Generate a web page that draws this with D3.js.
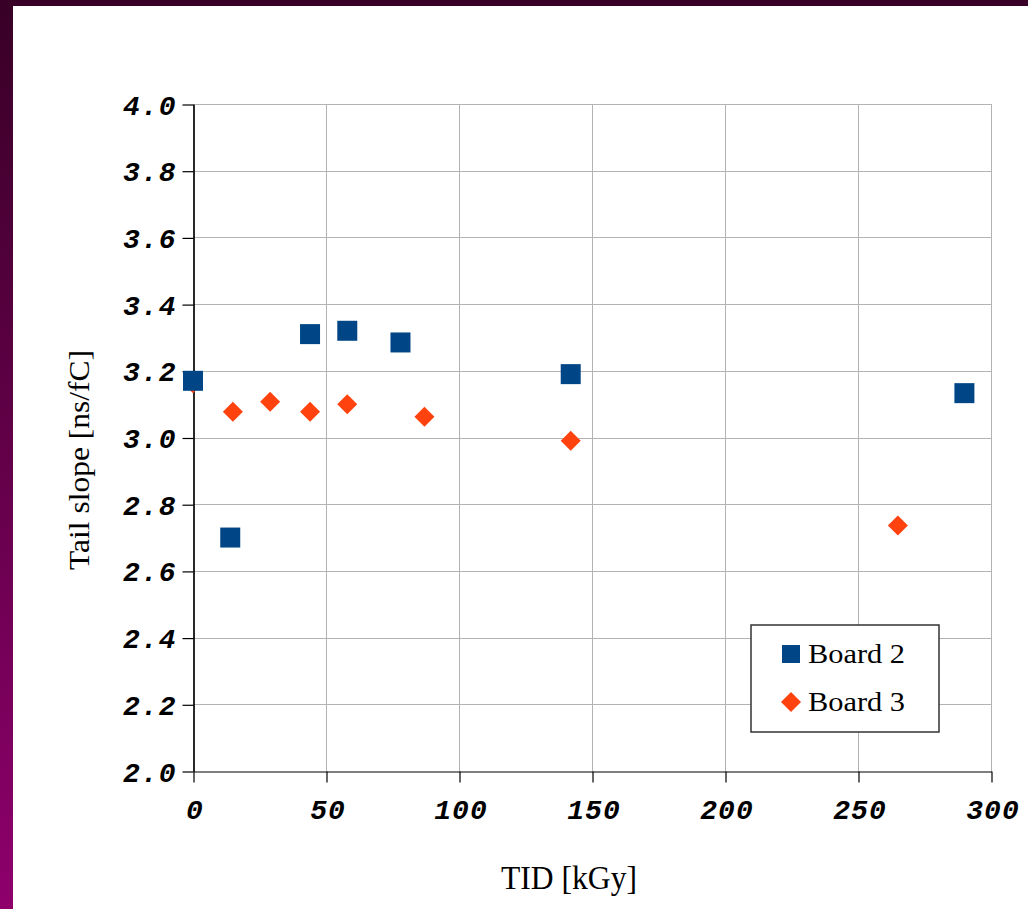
<!DOCTYPE html>
<html>
<head>
<meta charset="utf-8">
<script src="https://cdn.jsdelivr.net/npm/d3@7"></script>
<style>
  html, body { margin: 0; padding: 0; background: #fff; }
  svg { display: block; }
</style>
</head>
<body>
<div id="chart"></div>
<script>
// Tail slope versus total ionising dose for two boards
const board2Tid   = [0, 14, 44, 58, 78, 142, 290];
const board2Slope = [3.17, 2.70, 3.31, 3.32, 3.285, 3.19, 3.133];
const board3Tid   = [0, 15, 29, 44, 58, 87, 142, 265];
const board3Slope = [3.163, 3.077, 3.107, 3.077, 3.10, 3.062, 2.99, 2.736];
const seriesNames = ["Board 2", "Board 3"];
const xTicks = [0, 50, 100, 150, 200, 250, 300];
const yTicks = [2.0, 2.2, 2.4, 2.6, 2.8, 3.0, 3.2, 3.4, 3.6, 3.8, 4.0];

const W = 1028, H = 909;
const svg = d3.select("#chart").append("svg").attr("width", W).attr("height", H);

// Frame: purple gradient band on the left and top edges
const defs = svg.append("defs");
const grad = defs.append("linearGradient").attr("id", "frame")
  .attr("x1", 0).attr("y1", 0).attr("x2", 0).attr("y2", 1);
grad.append("stop").attr("offset", "0%").attr("stop-color", "#380026");
grad.append("stop").attr("offset", "100%").attr("stop-color", "#8e006c");
svg.append("rect").attr("width", W).attr("height", H).attr("fill", "url(#frame)");
svg.append("rect").attr("x", 13).attr("y", 6).attr("width", W - 13).attr("height", H - 6).attr("fill", "#fff");

const x = d3.scaleLinear().domain([0, 300]).range([193, 991]);
const y = d3.scaleLinear().domain([2, 4]).range([771, 104]);

const gridColor = "#b3b3b3";
const tickFont = "'Liberation Mono', 'Courier New', monospace";

// Grid
svg.append("g").selectAll("line.h").data(yTicks.filter(d => d > 2)).join("line")
  .attr("x1", x(0)).attr("x2", x(300))
  .attr("y1", d => Math.round(y(d)) + 0.5).attr("y2", d => Math.round(y(d)) + 0.5)
  .attr("stroke", gridColor).attr("stroke-width", 1);
svg.append("g").selectAll("line.v").data(xTicks.filter(d => d > 0)).join("line")
  .attr("x1", d => Math.round(x(d)) + 0.5).attr("x2", d => Math.round(x(d)) + 0.5)
  .attr("y1", y(4)).attr("y2", y(2))
  .attr("stroke", gridColor).attr("stroke-width", 1);

// Axes
const gx = svg.append("g").attr("transform", `translate(0.5,${Math.round(y(2)) + 0.5})`)
  .call(d3.axisBottom(x).tickValues(xTicks).tickSize(11).tickSizeOuter(0).tickFormat(d3.format("d")));
gx.select(".domain").attr("stroke", "#000").attr("stroke-width", 1.2);
gx.selectAll(".tick line").attr("stroke", "#000").attr("stroke-width", 1.2);
gx.selectAll(".tick text")
  .attr("y", 47).attr("dy", null).attr("x", 1)
  .attr("font-family", tickFont).attr("font-size", 28).attr("letter-spacing", 1)
  .attr("font-weight", "bold").attr("font-style", "italic").attr("fill", "#000");

const gy = svg.append("g").attr("transform", `translate(${Math.round(x(0)) + 0.5},0.5)`)
  .call(d3.axisLeft(y).tickValues(yTicks).tickSize(11).tickSizeOuter(0).tickFormat(d3.format(".1f")));
gy.select(".domain").attr("stroke", "#000").attr("stroke-width", 1.2);
gy.selectAll(".tick line").attr("stroke", "#000").attr("stroke-width", 1.2);
gy.selectAll(".tick text")
  .attr("x", -17).attr("dy", null).attr("y", 9.5)
  .attr("font-family", tickFont).attr("font-size", 28).attr("letter-spacing", 1)
  .attr("font-weight", "bold").attr("font-style", "italic").attr("fill", "#000");
gx.select(".tick line").attr("y1", -(y(2) - y(4)));

// Axis titles
const serif = "'Liberation Serif', 'Times New Roman', serif";
svg.append("text")
  .attr("x", 569).attr("y", 889)
  .attr("text-anchor", "middle")
  .attr("font-family", serif).attr("font-size", 33)
  .attr("textLength", 136).attr("lengthAdjust", "spacingAndGlyphs")
  .text("TID [kGy]");
svg.append("text")
  .attr("transform", "translate(89,460) rotate(-90)")
  .attr("text-anchor", "middle")
  .attr("font-family", serif).attr("font-size", 30)
  .attr("textLength", 220).attr("lengthAdjust", "spacingAndGlyphs")
  .text("Tail slope [ns/fC]");

// Markers
const colors = ["#004586", "#ff420e"];
const square = d3.symbol().type(d3.symbolSquare).size(400);
const diamond = d3.symbol().type(d3.symbolSquare).size(200);

const b3 = board3Tid.map((t, i) => ({ t, v: board3Slope[i] }));
const b2 = board2Tid.map((t, i) => ({ t, v: board2Slope[i] }));

svg.append("g").selectAll("path").data(b3).join("path")
  .attr("d", diamond)
  .attr("transform", d => `translate(${x(d.t)},${y(d.v)}) rotate(45)`)
  .attr("fill", colors[1]);
svg.append("g").selectAll("path").data(b2).join("path")
  .attr("d", square)
  .attr("transform", d => `translate(${x(d.t)},${y(d.v)})`)
  .attr("fill", colors[0]);

// Legend
const lg = svg.append("g");
lg.append("rect").attr("x", 751).attr("y", 625).attr("width", 188).attr("height", 107)
  .attr("fill", "#fff").attr("stroke", "#333").attr("stroke-width", 1.5);
const legendRows = [
  { name: seriesNames[0], sym: d3.symbol().type(d3.symbolSquare).size(324), rot: 0, cy: 654, base: 663, color: colors[0] },
  { name: seriesNames[1], sym: d3.symbol().type(d3.symbolSquare).size(200), rot: 45, cy: 702, base: 711, color: colors[1] }
];
legendRows.forEach(r => {
  lg.append("path").attr("d", r.sym)
    .attr("transform", `translate(791,${r.cy}) rotate(${r.rot})`)
    .attr("fill", r.color);
  lg.append("text").attr("x", 808).attr("y", r.base)
    .attr("font-family", serif).attr("font-size", 27)
    .attr("textLength", 97).attr("lengthAdjust", "spacingAndGlyphs")
    .text(r.name);
});
</script>
</body>
</html>
